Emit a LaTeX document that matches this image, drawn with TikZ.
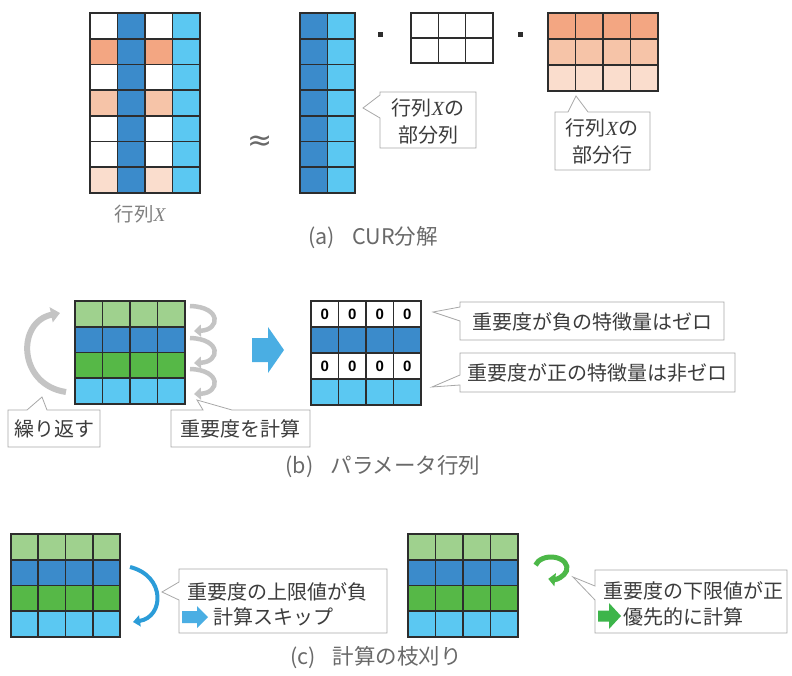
\documentclass[tikz,border=0pt]{standalone}
\usepackage{fontspec}
\setmainfont{Noto Sans CJK JP}
\newfontfamily\xfont{Liberation Serif}
\newfontfamily\zfont{Liberation Sans}
\newfontfamily\djv{DejaVu Sans}
\usetikzlibrary{arrows.meta}
\definecolor{dblue}{RGB}{59,139,203}
\definecolor{lblue}{RGB}{91,200,242}
\definecolor{lgreen}{RGB}{159,209,142}
\definecolor{mgreen}{RGB}{86,184,71}
\definecolor{orA}{RGB}{243,166,130}
\definecolor{orB}{RGB}{246,196,168}
\definecolor{orC}{RGB}{250,221,205}
\definecolor{gline}{RGB}{45,45,45}
\definecolor{cborder}{RGB}{168,168,168}
\definecolor{txt}{RGB}{60,60,60}
\definecolor{capt}{RGB}{105,105,105}
\definecolor{barrow}{RGB}{74,174,227}
\definecolor{bcurve}{RGB}{43,156,216}
\definecolor{garrow}{RGB}{76,184,72}
\definecolor{garrowb}{RGB}{61,181,74}
\definecolor{grayarrow}{RGB}{196,196,196}
\newcommand\mtx[6]{%
  \foreach \i in {0,...,#3} \draw[gl] ({#1+\i*#5},#2) -- ++(0,{#4*#6});
  \foreach \j in {0,...,#4} \draw[gl] (#1,{#2+\j*#6}) -- ++({#3*#5},0);
}
\newcommand\rowfill[6]{\fill[#6] (#1,#2) rectangle ++({#3*#4},#5);}
\begin{document}
\begin{tikzpicture}[x=1pt,y=-1pt,
  gl/.style={draw=gline,line width=1.6pt,line cap=rect},
  callout/.style={draw=cborder,line width=0.8pt,fill=white},
  jtext/.style={text=txt,font=\fontsize{20}{26}\selectfont,inner sep=0pt,align=center},
  ctext/.style={text=txt,font=\fontsize{20}{27}\selectfont,inner sep=0pt,align=center},
  caption/.style={text=capt,font=\fontsize{21.5}{24}\selectfont,inner sep=0pt},
  zero/.style={font=\zfont\bfseries\fontsize{15}{15}\selectfont,inner sep=0pt,text=black},
  grayarr/.style={draw=grayarrow,line width=4.5pt,-{Triangle[length=7pt,width=12pt]}},
]
\useasboundingbox (0,0) rectangle (792,676);

% ---------------- (a) ----------------
\foreach \c [count=\r from 0] in {white,orA,white,orB,white,white,orC}{
  \fill[\c] (90,{13+\r*25.714}) rectangle ++(27.5,25.714);
  \fill[\c] (145,{13+\r*25.714}) rectangle ++(27.5,25.714);
}
\fill[dblue] (117.5,13) rectangle (145,193);
\fill[lblue] (172.5,13) rectangle (200,193);
\mtx{90}{13}{4}{7}{27.5}{25.714}
\node[caption,text=capt!85,font=\fontsize{19.5}{22}\selectfont] (xlabel) at (140,214) {行列{\xfont\itshape X}};

\node[text=capt,inner sep=0pt,font=\djv\fontsize{30}{30}\selectfont] (approx) at (260,143) {≈};

\fill[dblue] (300,13) rectangle (327.5,193);
\fill[lblue] (327.5,13) rectangle (355,193);
\mtx{300}{13}{2}{7}{27.5}{25.714}

\fill[gline] (377.5,32.5) rectangle (382.5,37.5);
\mtx{411}{13}{3}{2}{27.33}{25}
\fill[gline] (517.5,32.5) rectangle (522.5,37.5);

\rowfill{548}{13}{4}{27.5}{26}{orA}
\rowfill{548}{39}{4}{27.5}{26}{orB}
\rowfill{548}{65}{4}{27.5}{26}{orC}
\mtx{548}{13}{4}{3}{27.5}{26}

\draw[callout] (380,92) -- (476,92) -- (476,148) -- (380,148) -- (380,118) -- (363,108) -- (380,95) -- cycle;
\node[ctext] (subcol) at (428,121.5) {行列{\xfont\itshape X}の\\部分列};

\draw[callout] (555,112) -- (568,112) -- (576,96) -- (588,112) -- (650,112) -- (650,170) -- (555,170) -- cycle;
\node[ctext] (subrow) at (602,141.5) {行列{\xfont\itshape X}の\\部分行};

\node[caption] (capa) at (373,238) {(a)\hspace{0.8em}CUR分解};

% ---------------- (b) ----------------
\rowfill{75}{301}{4}{27.5}{25.75}{lgreen}
\rowfill{75}{326.75}{4}{27.5}{25.75}{dblue}
\rowfill{75}{352.5}{4}{27.5}{25.75}{mgreen}
\rowfill{75}{378.25}{4}{27.5}{25.75}{lblue}
\mtx{75}{301}{4}{4}{27.5}{25.75}

% left repeat arrow
\draw[grayarr,line width=6pt,-{Triangle[length=9pt,width=15pt]}] (66,392) .. controls (18,385) and (16,322) .. (60,313);
% spiral arrows
\foreach \y in {306,338,369}{
  \draw[grayarr] (190,\y) .. controls (222,{\y+1}) and (220,{\y+24}) .. (194,{\y+25});
}

\draw[callout] (8,410) -- (27,410) -- (42,397) -- (47,410) -- (100,410) -- (100,447) -- (8,447) -- cycle;
\node[jtext] (repeat) at (54,429) {繰り返す};
\draw[callout] (171,410) -- (203,410) -- (197,400) -- (232,410) -- (310,410) -- (310,447) -- (171,447) -- cycle;
\node[jtext] (calcimp) at (240.5,429) {重要度を計算};

% block arrow
\fill[barrow] (252,338) -- (268,338) -- (268,327) -- (284,350) -- (268,373) -- (268,362) -- (252,362) -- cycle;

% right matrix (b)
\rowfill{311}{327}{4}{27.5}{26}{dblue}
\rowfill{311}{379}{4}{27.5}{26}{lblue}
\mtx{311}{301}{4}{4}{27.5}{26}
\foreach \i in {0,...,3}{
  \node[zero] (za\i) at ({324.75+\i*27.5},314.5) {0};
  \node[zero] (zb\i) at ({324.75+\i*27.5},366.5) {0};
}

\draw[callout] (460,302) -- (724,302) -- (724,340) -- (460,340) -- (460,321) -- (433,312) -- (460,307) -- cycle;
\node[jtext] (neg) at (592,321.5) {重要度が負の特徴量はゼロ};
\draw[callout] (460,353) -- (735,353) -- (735,392) -- (460,392) -- (460,385) -- (432,387) -- (460,375) -- cycle;
\node[jtext] (pos) at (597.5,372.5) {重要度が正の特徴量は非ゼロ};

\node[caption] (capb) at (383,467) {(b)\hspace{0.8em}パラメータ行列};

% ---------------- (c) ----------------
\rowfill{11}{534}{4}{27.25}{25.75}{lgreen}
\rowfill{11}{559.75}{4}{27.25}{25.75}{dblue}
\rowfill{11}{585.5}{4}{27.25}{25.75}{mgreen}
\rowfill{11}{611.25}{4}{27.25}{25.75}{lblue}
\mtx{11}{534}{4}{4}{27.25}{25.75}

\draw[draw=bcurve,line width=4pt,-{Triangle[length=7pt,width=11pt]}] (130,567) .. controls (166,576) and (164,617) .. (133,622);

\draw[callout] (179,569) -- (387,569) -- (387,633) -- (179,633) -- (179,600) -- (162,592) -- (179,582) -- cycle;
\node[jtext,anchor=west] (upper) at (187,592) {重要度の上限値が負};
\fill[barrow] (182,611) -- (197,611) -- (197,606) -- (208,617) -- (197,628) -- (197,623) -- (182,623) -- cycle;
\node[jtext,anchor=west] (skip) at (213,617) {計算スキップ};

\rowfill{408}{534}{4}{27.5}{25.75}{lgreen}
\rowfill{408}{559.75}{4}{27.5}{25.75}{dblue}
\rowfill{408}{585.5}{4}{27.5}{25.75}{mgreen}
\rowfill{408}{611.25}{4}{27.5}{25.75}{lblue}
\mtx{408}{534}{4}{4}{27.5}{25.75}

\draw[draw=garrow,line width=5pt,-{Triangle[length=7pt,width=13pt]}] (551,568) ++(-165:16 and 11) arc[start angle=-165,end angle=100,x radius=16,y radius=11];

\draw[callout] (595,570) -- (787,570) -- (787,633) -- (595,633) -- (595,600) -- (573,577) -- (595,586) -- cycle;
\node[jtext,anchor=west] (lower) at (603,591) {重要度の下限値が正};
\fill[garrowb] (598,610.5) -- (609,610.5) -- (609,603) -- (621,616) -- (609,629) -- (609,621.5) -- (598,621.5) -- cycle;
\node[jtext,anchor=west] (prio) at (623,617) {優先的に計算};

\node[caption] (capc) at (376,658) {(c)\hspace{0.8em}計算の枝刈り};
\end{tikzpicture}
\end{document}
